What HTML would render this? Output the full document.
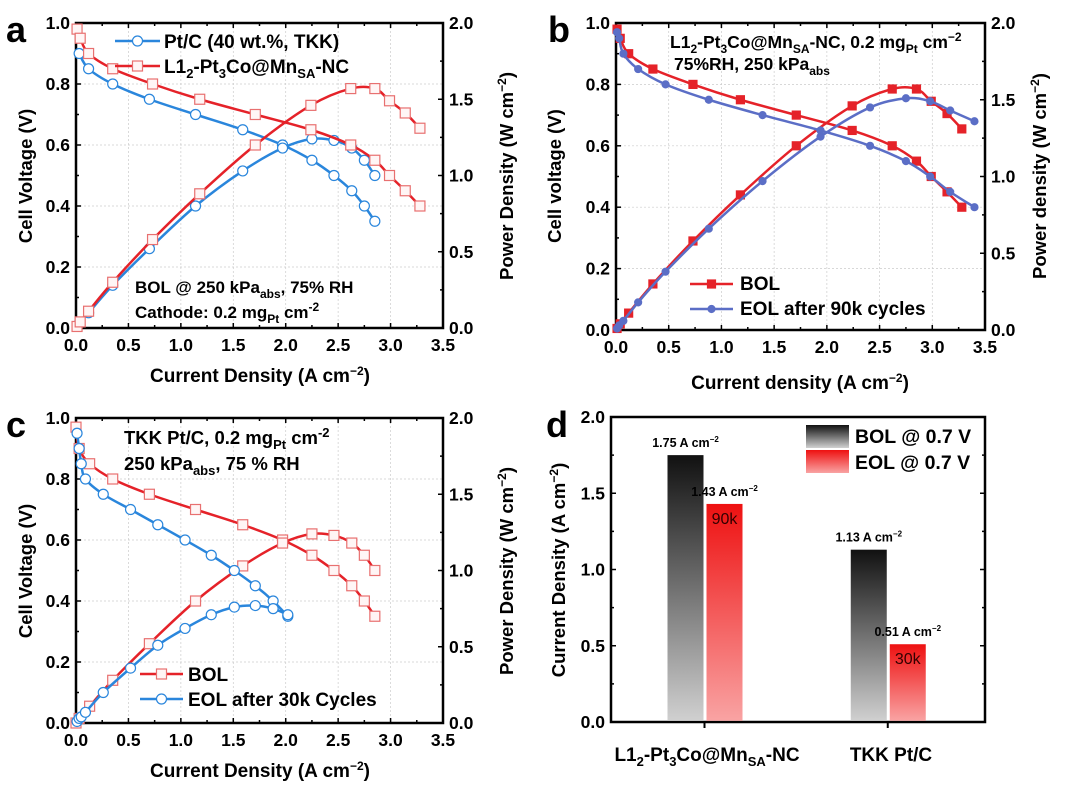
<!DOCTYPE html>
<html><head><meta charset="utf-8"><style>
html,body{margin:0;padding:0;background:#fff;}
svg{display:block;font-family:"Liberation Sans",Arial,sans-serif;font-weight:bold;}
</style></head><body>
<svg id="fig" width="1080" height="785" viewBox="0 0 1080 785" xmlns="http://www.w3.org/2000/svg">
<defs>
<linearGradient id="gBOL" x1="0" y1="0" x2="0" y2="1"><stop offset="0" stop-color="#111"/><stop offset="1" stop-color="#d0d0d0"/></linearGradient>
<linearGradient id="gEOL" x1="0" y1="0" x2="0" y2="1"><stop offset="0" stop-color="#ee1111"/><stop offset="1" stop-color="#f9a3a3"/></linearGradient>
</defs>
<g id="marks"></g>
<text x="6" y="42" font-size="36">a</text>
<text x="548" y="42" font-size="36">b</text>
<text x="6" y="437" font-size="36">c</text>
<text x="546" y="437" font-size="36">d</text>
<text transform="translate(32,176) rotate(-90)" text-anchor="middle" font-size="18.5">Cell Voltage (V)</text>
<text transform="translate(513,176) rotate(-90)" text-anchor="middle" font-size="18.5">Power Density (W cm<tspan dy="-7" font-size="12">−2</tspan><tspan dy="7">)</tspan></text>
<text x="260" y="382" text-anchor="middle" font-size="19">Current Density (A cm<tspan dy="-7" font-size="12">−2</tspan><tspan dy="7">)</tspan></text>
<text transform="translate(561,176) rotate(-90)" text-anchor="middle" font-size="18.5">Cell voltage (V)</text>
<text transform="translate(1046,176) rotate(-90)" text-anchor="middle" font-size="18.5">Power density (W cm<tspan dy="-7" font-size="12">−2</tspan><tspan dy="7">)</tspan></text>
<text x="800" y="389" text-anchor="middle" font-size="19">Current density (A cm<tspan dy="-7" font-size="12">−2</tspan><tspan dy="7">)</tspan></text>
<text transform="translate(32,571) rotate(-90)" text-anchor="middle" font-size="18.5">Cell Voltage (V)</text>
<text transform="translate(513,571) rotate(-90)" text-anchor="middle" font-size="18.5">Power Density (W cm<tspan dy="-7" font-size="12">−2</tspan><tspan dy="7">)</tspan></text>
<text x="260" y="777" text-anchor="middle" font-size="19">Current Density (A cm<tspan dy="-7" font-size="12">−2</tspan><tspan dy="7">)</tspan></text>
<text transform="translate(565,570) rotate(-90)" text-anchor="middle" font-size="18.5">Current Density (A cm<tspan dy="-7" font-size="12">−2</tspan><tspan dy="7">)</tspan></text>
<text x="164" y="48" font-size="19">Pt/C (40 wt.%, TKK)</text>
<text x="164" y="73" font-size="19">L1<tspan dy="5" font-size="13">2</tspan><tspan dy="-5">-Pt</tspan><tspan dy="5" font-size="13">3</tspan><tspan dy="-5">Co@Mn</tspan><tspan dy="5" font-size="13">SA</tspan><tspan dy="-5">-NC</tspan></text>
<text x="135" y="293" font-size="17">BOL @ 250 kPa<tspan dy="5" font-size="12">abs</tspan><tspan dy="-5">, 75% RH</tspan></text>
<text x="135" y="318" font-size="17">Cathode: 0.2 mg<tspan dy="5" font-size="12">Pt</tspan><tspan dy="-5"> cm</tspan><tspan dy="-7" font-size="12">-2</tspan></text>
<text x="670" y="48" font-size="17.5">L1<tspan dy="5" font-size="12">2</tspan><tspan dy="-5">-Pt</tspan><tspan dy="5" font-size="12">3</tspan><tspan dy="-5">Co@Mn</tspan><tspan dy="5" font-size="12">SA</tspan><tspan dy="-5">-NC, 0.2 mg</tspan><tspan dy="5" font-size="12">Pt</tspan><tspan dy="-5"> cm</tspan><tspan dy="-7" font-size="12">−2</tspan></text>
<text x="674" y="70" font-size="17.5">75%RH, 250 kPa<tspan dy="5" font-size="12">abs</tspan></text>
<text x="740" y="290" font-size="19">BOL</text>
<text x="740" y="315" font-size="19">EOL after 90k cycles</text>
<text x="124" y="444" font-size="18.5">TKK Pt/C, 0.2 mg<tspan dy="5" font-size="13">Pt</tspan><tspan dy="-5"> cm</tspan><tspan dy="-7" font-size="13">-2</tspan></text>
<text x="124" y="470" font-size="18.5">250 kPa<tspan dy="5" font-size="13">abs</tspan><tspan dy="-5">, 75 % RH</tspan></text>
<text x="188" y="681" font-size="19">BOL</text>
<text x="188" y="706" font-size="19">EOL after 30k Cycles</text>
<rect x="806" y="425" width="43" height="23" fill="url(#gBOL)"/>
<rect x="806" y="450" width="43" height="23" fill="url(#gEOL)"/>
<text x="855" y="443" font-size="19.5">BOL @ 0.7 V</text>
<text x="855" y="469" font-size="19.5">EOL @ 0.7 V</text>
<text x="707" y="761" text-anchor="middle" font-size="19">L1<tspan dy="5" font-size="13">2</tspan><tspan dy="-5">-Pt</tspan><tspan dy="5" font-size="13">3</tspan><tspan dy="-5">Co@Mn</tspan><tspan dy="5" font-size="13">SA</tspan><tspan dy="-5">-NC</tspan></text>
<text x="891" y="761" text-anchor="middle" font-size="19">TKK Pt/C</text>
</svg>
<script>
const aPtcI = [0.03,0.12,0.35,0.70,1.14,1.59,1.97,2.25,2.46,2.63,2.75,2.85];
const aPtcV = [0.90,0.85,0.80,0.75,0.70,0.65,0.60,0.55,0.50,0.45,0.40,0.35];
const aPtcP = [0.03,0.10,0.28,0.52,0.80,1.03,1.18,1.24,1.23,1.18,1.10,1.00];
const aL12I = [0.01,0.04,0.12,0.35,0.73,1.18,1.71,2.24,2.62,2.85,2.99,3.14,3.28];
const aL12V = [0.98,0.95,0.90,0.85,0.80,0.75,0.70,0.65,0.60,0.55,0.50,0.45,0.40];
const aL12P = [0.01,0.04,0.11,0.30,0.58,0.88,1.20,1.46,1.57,1.57,1.49,1.41,1.31];
const bBolI = [0.01,0.04,0.12,0.35,0.73,1.18,1.71,2.24,2.62,2.85,2.99,3.14,3.28];
const bBolV = [0.98,0.95,0.90,0.85,0.80,0.75,0.70,0.65,0.60,0.55,0.50,0.45,0.40];
const bBolP = [0.01,0.04,0.11,0.30,0.58,0.88,1.20,1.46,1.57,1.57,1.49,1.41,1.31];
const bEolI = [0.01,0.03,0.07,0.21,0.47,0.88,1.39,1.94,2.41,2.75,2.98,3.17,3.40];
const bEolV = [0.97,0.95,0.90,0.85,0.80,0.75,0.70,0.65,0.60,0.55,0.50,0.45,0.40];
const bEolP = [0.01,0.03,0.06,0.18,0.38,0.66,0.97,1.26,1.45,1.51,1.49,1.43,1.36];
const cBolI = [0.00,0.03,0.13,0.35,0.70,1.14,1.59,1.97,2.25,2.46,2.63,2.75,2.85];
const cBolV = [0.97,0.90,0.85,0.80,0.75,0.70,0.65,0.60,0.55,0.50,0.45,0.40,0.35];
const cBolP = [0.00,0.03,0.11,0.28,0.52,0.80,1.03,1.18,1.24,1.23,1.18,1.10,1.00];
const cEolI = [0.01,0.03,0.05,0.09,0.26,0.52,0.78,1.04,1.29,1.51,1.71,1.88,2.02];
const cEolV = [0.95,0.90,0.85,0.80,0.75,0.70,0.65,0.60,0.55,0.50,0.45,0.40,0.35];
const cEolP = [0.01,0.03,0.04,0.07,0.20,0.36,0.51,0.62,0.71,0.76,0.77,0.75,0.71];
const dCategories = ["L12-Pt3Co@MnSA-NC","TKK Pt/C"];
const dBol = [1.75,1.13];
const dEol = [1.43,0.51];
const dBolLabels = ["1.75 A cm","1.13 A cm"];
const dEolLabels = ["1.43 A cm","0.51 A cm"];
const dCycles = ["90k","30k"];
const xTicks = ["0.0","0.5","1.0","1.5","2.0","2.5","3.0","3.5"];
const vTicks = ["0.0","0.2","0.4","0.6","0.8","1.0"];
const pTicks = ["0.0","0.5","1.0","1.5","2.0"];
const dTicks = ["0.0","0.5","1.0","1.5","2.0"];

const NS = "http://www.w3.org/2000/svg";
const G = document.getElementById("marks");
function mk(tag, attrs, parent){
  const e = document.createElementNS(NS, tag);
  for (const k in attrs) e.setAttribute(k, attrs[k]);
  (parent||G).appendChild(e);
  return e;
}
const RED = "#e52229", BLUE = "#2a86dc", VIOLET = "#5b6ec6";
const TF = 17.5;

function axes(p, xt, yt, y2t, prefix){
  const W = p.R-p.L, H = p.B-p.T;
  if (p.grid){
    yt.forEach((t,i)=>{ if(i>0 && i<yt.length-1){ const y=p.B-H*i/(yt.length-1);
      const g=mk("line",{x1:p.L,x2:p.R,y1:y,y2:y,stroke:"#ccc","stroke-width":0.7,"stroke-dasharray":"2,2"});
      
       }});
    xt.forEach((t,i)=>{ if(i>0 && i<xt.length-1){ const x=p.L+W*i/(xt.length-1);
      const g=mk("line",{x1:x,x2:x,y1:p.T,y2:p.B,stroke:"#ccc","stroke-width":0.7,"stroke-dasharray":"2,2"});
      
       }});
  }
  const fr = mk("rect",{x:p.L,y:p.T,width:W,height:H,fill:"none",stroke:"#000","stroke-width":2.5});
  
  
  const ny = yt.length-1;
  for (let i=0;i<=ny*2;i++){
    const y=p.B-H*i/(ny*2), len=i%2?3:5;
    mk("line",{x1:p.L,x2:p.L+len,y1:y,y2:y,stroke:"#000","stroke-width":1.5});
    if(!y2t) mk("line",{x1:p.R,x2:p.R-len,y1:y,y2:y,stroke:"#000","stroke-width":1.5});
  }
  yt.forEach((t,i)=>{ const y=p.B-H*i/ny;
    const tx=mk("text",{x:p.L-6,y:y+6,"text-anchor":"end","font-size":TF}); tx.textContent=t;
    
     });
  if (y2t){
    const n2=y2t.length-1;
    for (let i=0;i<=n2*2;i++){ const y=p.B-H*i/(n2*2), len=i%2?3:5;
      mk("line",{x1:p.R,x2:p.R-len,y1:y,y2:y,stroke:"#000","stroke-width":1.5}); }
    y2t.forEach((t,i)=>{ const y=p.B-H*i/n2;
      const tx=mk("text",{x:p.R+6,y:y+6,"font-size":TF}); tx.textContent=t;
      
       });
  }
  if (xt){
    const nx=xt.length-1;
    for (let i=0;i<=nx*2;i++){ const x=p.L+W*i/(nx*2), len=i%2?3:5;
      mk("line",{x1:x,x2:x,y1:p.B,y2:p.B-len,stroke:"#000","stroke-width":1.5});
      mk("line",{x1:x,x2:x,y1:p.T,y2:p.T+len,stroke:"#000","stroke-width":1.5}); }
    xt.forEach((t,i)=>{ const x=p.L+W*i/nx;
      const tx=mk("text",{x:x,y:p.B+23,"text-anchor":"middle","font-size":TF}); tx.textContent=t;
      
       });
  }
}

function smoothPath(pts){
  let d="M"+pts[0][0]+","+pts[0][1];
  for(let i=0;i<pts.length-1;i++){
    const p0=pts[Math.max(0,i-1)],p1=pts[i],p2=pts[i+1],p3=pts[Math.min(pts.length-1,i+2)];
    const c1=[p1[0]+(p2[0]-p0[0])/6,p1[1]+(p2[1]-p0[1])/6];
    const c2=[p2[0]-(p3[0]-p1[0])/6,p2[1]-(p3[1]-p1[1])/6];
    d+=" C"+c1[0]+","+c1[1]+" "+c2[0]+","+c2[1]+" "+p2[0]+","+p2[1];
  }
  return d;
}

function series(p, xs, ys, ymax, color, marker, filled, name){
  const sx=v=>p.L+(p.R-p.L)*v/3.5, sy=v=>p.B-(p.B-p.T)*v/ymax;
  const pts=xs.map((x,i)=>[sx(x),sy(ys[i])]);
  const path=mk("path",{d:smoothPath(pts),fill:"none",stroke:color,"stroke-width":2.5});
  
  
  pts.forEach(pt=>{
    let m;
    if(marker==="circle") m=mk("circle",{cx:pt[0],cy:pt[1],r:filled?3.5:5,fill:filled?color:"#fff",stroke:color,"stroke-width":1.2});
    else m=mk("rect",{x:pt[0]-(filled?4:5),y:pt[1]-(filled?4:5),width:filled?8:10,height:filled?8:10,fill:filled?color:"#fff5f5",stroke:filled?color:"#e87070","stroke-width":1.2});
    
    
  });
}
function legendLine(x1,x2,y,color,marker,filled,name){
  const l=mk("line",{x1:x1,x2:x2,y1:y,y2:y,stroke:color,"stroke-width":2.5});
  
  
  const cx=(x1+x2)/2; let m;
  if(marker==="circle") m=mk("circle",{cx:cx,cy:y,r:filled?3.5:5,fill:filled?color:"#fff",stroke:color,"stroke-width":1.2});
  else m=mk("rect",{x:cx-(filled?4:5),y:y-(filled?4:5),width:filled?8:10,height:filled?8:10,fill:filled?color:"#fff5f5",stroke:filled?color:"#e87070","stroke-width":1.2});
  
  
}

const PA={L:76,R:443,T:23,B:328,grid:true}, PB={L:616,R:985,T:23,B:330,grid:true},
      PC={L:76,R:443,T:418,B:723,grid:true}, PD={L:611,R:985,T:417,B:722};
axes(PA,xTicks,vTicks,pTicks,"a"); axes(PB,xTicks,vTicks,pTicks,"b"); axes(PC,xTicks,vTicks,pTicks,"c");
series(PA,aPtcI,aPtcV,1,BLUE,"circle",false,"a-ptc-voltage");
series(PA,aPtcI,aPtcP,2,BLUE,"circle",false,"a-ptc-power");
series(PA,aL12I,aL12V,1,RED,"square",false,"a-l12-voltage");
series(PA,aL12I,aL12P,2,RED,"square",false,"a-l12-power");
legendLine(115,160,41,BLUE,"circle",false,"a-ptc");
legendLine(115,160,66,RED,"square",false,"a-l12");
series(PB,bBolI,bBolV,1,RED,"square",true,"b-bol-voltage");
series(PB,bBolI,bBolP,2,RED,"square",true,"b-bol-power");
series(PB,bEolI,bEolV,1,VIOLET,"circle",true,"b-eol-voltage");
series(PB,bEolI,bEolP,2,VIOLET,"circle",true,"b-eol-power");
legendLine(690,733,284,RED,"square",true,"b-bol");
legendLine(690,733,309,VIOLET,"circle",true,"b-eol");
series(PC,cBolI,cBolV,1,RED,"square",false,"c-bol-voltage");
series(PC,cBolI,cBolP,2,RED,"square",false,"c-bol-power");
series(PC,cEolI,cEolV,1,BLUE,"circle",false,"c-eol-voltage");
series(PC,cEolI,cEolP,2,BLUE,"circle",false,"c-eol-power");
legendLine(140,183,674,RED,"square",false,"c-bol");
legendLine(140,183,699,BLUE,"circle",false,"c-eol");

axes(PD,null,dTicks,null,"d");
const catX = i => PD.L + (PD.R-PD.L)*(0.25+0.49*i);
const sd = v => PD.B-(PD.B-PD.T)*v/2;
dCategories.forEach((c,i)=>{
  const cx=catX(i);
  const tk=mk("line",{x1:cx,x2:cx,y1:PD.B,y2:PD.B+6,stroke:"#000","stroke-width":2});
  
  
  const b1=mk("rect",{x:cx-37,y:sd(dBol[i]),width:36,height:PD.B-sd(dBol[i])-1.2,fill:"url(#gBOL)"});
  
  
  const b2=mk("rect",{x:cx+2,y:sd(dEol[i]),width:36,height:PD.B-sd(dEol[i])-1.2,fill:"url(#gEOL)"});
  
  
  const t1=mk("text",{x:cx-19,y:sd(dBol[i])-8,"text-anchor":"middle","font-size":12.5});
  t1.textContent=dBolLabels[i];
  const s1=mk("tspan",{dy:-5,"font-size":8},t1); s1.textContent="−2";
  
  
  const t2=mk("text",{x:cx+20,y:sd(dEol[i])-8,"text-anchor":"middle","font-size":12.5});
  t2.textContent=dEolLabels[i];
  const s2=mk("tspan",{dy:-5,"font-size":8},t2); s2.textContent="−2";
  
  
  const t3=mk("text",{x:cx+20,y:sd(dEol[i])+20,"text-anchor":"middle","font-size":16,"font-weight":"normal",fill:"#300"});
  t3.textContent=dCycles[i];
  
  
});
</script>
</body></html>
